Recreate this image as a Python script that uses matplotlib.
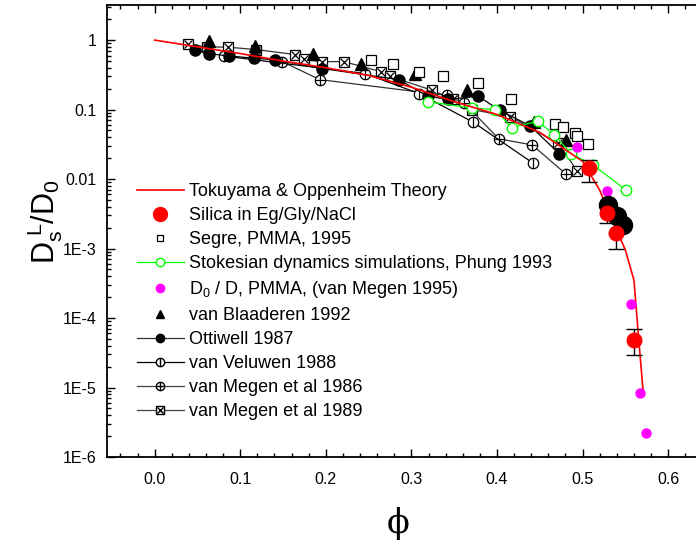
import matplotlib
matplotlib.use("Agg")
import matplotlib.pyplot as plt
from matplotlib.lines import Line2D
from matplotlib.legend_handler import HandlerTuple
from matplotlib.ticker import FixedLocator, MultipleLocator, LogLocator, NullFormatter, FormatStrFormatter

plt.rcParams['font.family'] = ['Liberation Sans', 'DejaVu Sans']
plt.rcParams['mathtext.fontset'] = 'custom'
plt.rcParams['mathtext.rm'] = 'Liberation Sans'
plt.rcParams['mathtext.it'] = 'Liberation Sans:italic'

# Tokuyama & Oppenheim theory
theory_phi = [0.0, 0.05, 0.1, 0.15, 0.2, 0.25, 0.3, 0.35, 0.4, 0.45, 0.5, 0.52, 0.54, 0.55, 0.56, 0.5655, 0.571]
theory_d = [1.0, 0.8, 0.64, 0.5, 0.40, 0.31, 0.21, 0.13, 0.085, 0.047, 0.018, 0.0069, 0.0018, 9.5e-4, 3.5e-4, 5e-5, 8e-6]

# Silica in Eg/Gly/NaCl
silica_phi = [0.507, 0.528, 0.539, 0.560]
silica_d = [0.0144, 0.0032, 0.0017, 4.9e-5]
silica_lo = [0.0092, 0.0023, 0.0010, 2.9e-5]
silica_hi = [0.019, 0.0045, 0.0026, 6.9e-5]

# large black points (no legend entry)
big_phi = [0.530, 0.540, 0.547]
big_d = [0.0042, 0.0029, 0.0022]

# Segre, PMMA, 1995
segre_phi = [0.253, 0.278, 0.309, 0.337, 0.378, 0.416, 0.468, 0.477, 0.491, 0.494, 0.506]
segre_d = [0.52, 0.45, 0.35, 0.30, 0.24, 0.14, 0.062, 0.056, 0.046, 0.042, 0.032]

# Stokesian dynamics simulations, Phung 1993
stokes_phi = [0.319, 0.371, 0.398, 0.417, 0.448, 0.467, 0.487, 0.512, 0.551]
stokes_d = [0.13, 0.105, 0.10, 0.055, 0.068, 0.043, 0.023, 0.016, 0.0069]

# D0 / D, PMMA (van Megen 1995)
megen95_phi = [0.494, 0.528, 0.557, 0.567, 0.574]
megen95_d = [0.029, 0.0067, 1.6e-4, 8.4e-6, 2.2e-6]

# van Blaaderen 1992
blaad_phi = [0.063, 0.117, 0.185, 0.241, 0.304, 0.365, 0.443, 0.481]
blaad_d = [0.98, 0.82, 0.64, 0.46, 0.33, 0.19, 0.067, 0.036]

# Ottiwell 1987
otti_phi = [0.047, 0.063, 0.087, 0.116, 0.141, 0.196, 0.285, 0.319, 0.343, 0.378, 0.403, 0.439, 0.473]
otti_d = [0.72, 0.64, 0.59, 0.55, 0.52, 0.39, 0.27, 0.156, 0.14, 0.156, 0.098, 0.058, 0.023]

# van Veluwen 1988
velu_phi = [0.081, 0.246, 0.309, 0.372, 0.442]
velu_d = [0.59, 0.33, 0.17, 0.066, 0.017]

# van Megen et al 1986
megen86_phi = [0.149, 0.193, 0.341, 0.362, 0.402, 0.441, 0.481]
megen86_d = [0.49, 0.27, 0.16, 0.123, 0.038, 0.031, 0.0117]

# van Megen et al 1989
megen89_phi = [0.039, 0.061, 0.086, 0.119, 0.164, 0.174, 0.195, 0.221, 0.265, 0.275, 0.324, 0.349, 0.371, 0.415, 0.471, 0.494]
megen89_d = [0.87, 0.80, 0.79, 0.73, 0.62, 0.53, 0.49, 0.49, 0.35, 0.30, 0.19, 0.14, 0.10, 0.079, 0.033, 0.013]

ytick_vals = [1e-6, 1e-5, 1e-4, 1e-3, 0.01, 0.1, 1]
ytick_labels = ['1E-6', '1E-5', '1E-4', '1E-3', '0.01', '0.1', '1']

W, H = 696, 543
fig = plt.figure(figsize=(W / 100, H / 100), dpi=100)
ax = fig.add_axes([106.7 / W, (H - 457) / H, 604.3 / W, 452 / H])
ax.set_yscale('log')

lw = 0.9
ax.plot(megen89_phi, megen89_d, '-', color='#333333', lw=lw, marker='s', ms=7, mfc='white', mec='black', mew=0.9)
ax.plot(megen89_phi, megen89_d, 'x', color='black', ms=5.5, mew=0.9)
ax.plot(megen86_phi, megen86_d, '-', color='#333333', lw=lw, marker='o', ms=7.5, mfc='white', mec='black', mew=0.9)
ax.plot(megen86_phi, megen86_d, '+', color='black', ms=7.5, mew=0.9)
ax.plot(velu_phi, velu_d, '-', color='black', lw=lw, marker='o', ms=7.5, mfc='white', mec='black', mew=0.9)
ax.plot(velu_phi, velu_d, '|', color='black', ms=7.5, mew=0.9)
ax.plot(otti_phi, otti_d, '-', color='black', lw=lw, marker='o', ms=8, mfc='black', mec='black')
ax.plot(blaad_phi, blaad_d, '^', color='black', ms=8, ls='none')
ax.plot(segre_phi, segre_d, 's', ms=7.5, mfc='white', mec='black', mew=0.9, ls='none')
ax.plot(stokes_phi, stokes_d, '-', color='#00ff00', lw=lw, marker='o', ms=7.5, mfc='white', mec='#00ff00', mew=1.0)
ax.plot(theory_phi, theory_d, '-', color='red', lw=1.2)
ax.plot(megen95_phi, megen95_d, 'o', color='#ff00ff', ms=6.5, ls='none')
ax.errorbar(silica_phi, silica_d,
            yerr=[[d - lo for d, lo in zip(silica_d, silica_lo)], [hi - d for d, hi in zip(silica_d, silica_hi)]],
            fmt='o', color='red', ms=10.5, ecolor='black', elinewidth=1.0, capsize=6, capthick=1.0)
ax.plot(big_phi, big_d, 'o', color='black', ms=13, ls='none')

ax.set_xlim(-0.056, 0.65)
ax.set_ylim(1e-6, 3.2)
ax.xaxis.set_major_locator(MultipleLocator(0.1))
ax.xaxis.set_minor_locator(MultipleLocator(0.02))
ax.xaxis.set_major_formatter(FormatStrFormatter('%.1f'))
ax.yaxis.set_major_locator(FixedLocator(ytick_vals))
ax.set_yticklabels(ytick_labels)
ax.yaxis.set_minor_locator(LogLocator(base=10, subs=range(2, 10), numticks=20))
ax.yaxis.set_minor_formatter(NullFormatter())
ax.tick_params(which='both', direction='in', top=True, right=False, labelsize=11.5, width=1.0)
ax.tick_params(which='major', length=6)
ax.tick_params(which='minor', length=3)
ax.tick_params(axis='x', pad=11)
ax.tick_params(axis='y', pad=7)
for s in ['left', 'bottom', 'top']:
    ax.spines[s].set_linewidth(1.3)
ax.spines['right'].set_visible(False)

fig.text(45 / W, 1 - 222 / H, r'$\mathregular{D_s^{\ L}/D_0}$', rotation=90, fontsize=22,
         ha='center', va='center')
fig.text(398 / W, 1 - 523 / H, 'ϕ', fontsize=24, ha='center', va='center',
         family=['DejaVu Serif', 'DejaVu Sans'])

handles = [
    Line2D([], [], color='red', lw=1.2),
    Line2D([], [], ls='none', marker='o', color='red', ms=10),
    Line2D([], [], ls='none', marker='s', ms=5, mfc='white', mec='black', mew=0.9),
    Line2D([], [], color='#00ff00', lw=lw, marker='o', ms=6, mfc='white', mec='#00ff00'),
    Line2D([], [], ls='none', marker='o', color='#ff00ff', ms=6),
    Line2D([], [], ls='none', marker='^', color='black', ms=6),
    Line2D([], [], color='#333333', lw=lw, marker='o', ms=6, mfc='black', mec='black'),
    (Line2D([], [], color='black', lw=lw, marker='o', ms=6, mfc='white', mec='black'),
     Line2D([], [], ls='none', marker='|', color='black', ms=6)),
    (Line2D([], [], color='#444444', lw=lw, marker='o', ms=6, mfc='white', mec='black'),
     Line2D([], [], ls='none', marker='+', color='black', ms=6)),
    (Line2D([], [], color='#444444', lw=lw, marker='s', ms=5.5, mfc='white', mec='black'),
     Line2D([], [], ls='none', marker='x', color='black', ms=4.5)),
]
labels = ['Tokuyama & Oppenheim Theory', 'Silica in Eg/Gly/NaCl', 'Segre, PMMA, 1995',
          'Stokesian dynamics simulations, Phung 1993', r'D$_0$ / D, PMMA, (van Megen 1995)',
          'van Blaaderen 1992', 'Ottiwell 1987', 'van Veluwen 1988', 'van Megen et al 1986',
          'van Megen et al 1989']
ax.legend(handles, labels, loc='upper left', bbox_to_anchor=(137 / W, 1 - 183 / H),
          bbox_transform=fig.transFigure, frameon=False, fontsize=13, handlelength=2.6,
          handletextpad=0.3, labelspacing=0.39, borderpad=0, borderaxespad=0,
          handler_map={tuple: HandlerTuple(ndivide=1, pad=0)})

fig.savefig('out.png', dpi=100)
